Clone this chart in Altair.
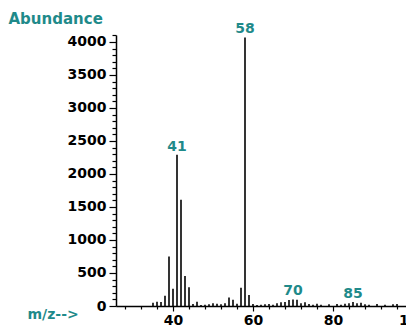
import altair as alt
import pandas as pd

mz = [35, 36, 37, 38, 39, 40, 41, 42, 43, 44, 45, 46, 47, 48, 49, 50, 51, 52, 53, 54,
      55, 56, 57, 58, 59, 60, 61, 62, 63, 64, 65, 66, 67, 68, 69, 70, 71, 72, 73, 74,
      75, 76, 77, 79, 81, 82, 83, 84, 85, 86, 87, 88, 89, 91, 93, 95, 96]
abundance = [50, 65, 60, 155, 750, 260, 2290, 1610, 455, 285, 30, 65, 15, 20, 25, 40, 35, 25, 40, 130,
             95, 35, 275, 4070, 165, 30, 15, 20, 25, 30, 20, 40, 55, 60, 90, 100, 95, 40, 55, 30,
             20, 35, 20, 25, 30, 20, 35, 40, 60, 40, 50, 25, 20, 30, 20, 25, 30]

label_mz = [41, 58, 70, 85]
label_text = ["41", "58", "70", "85"]

x_ticks = list(range(28, 101, 4))
y_ticks = list(range(0, 4101, 100))

TEAL = "#1f8a8a"
FONT = "DejaVu Sans"
FS = 14

df = pd.DataFrame({"mz": mz, "ab": abundance})
lab_ab = [abundance[mz.index(m)] for m in label_mz]
df_lab = pd.DataFrame({"mz": label_mz, "ab": lab_ab, "t": label_text})

xscale = alt.Scale(domain=[25.75, 100], range=[0, 297], nice=False, zero=False)
yscale = alt.Scale(domain=[0, 4106], nice=False)

xaxis = alt.Axis(
    values=x_ticks, tickCount=200, format="d",
    labelExpr="datum.value % 20 === 0 ? datum.label : ''",
    tickSize={"condition": {"test": "datum.value % 20 === 0", "value": 5}, "value": 3},
    tickColor="black", tickWidth=1.2, domainColor="black", domainWidth=1.5,
    labelFont=FONT, labelFontSize=FS, labelFontWeight="bold", labelColor="black",
    labelPadding=2, labelOverlap=False, labelFlush=False, grid=False,
    title="m/z-->", titleFont=FONT, titleFontSize=FS, titleFontWeight="bold",
    titleColor=TEAL, titleAlign="left", titleBaseline="alphabetic",
    titleX=-89, titleY=12, titleAnchor="start",
)
yaxis = alt.Axis(
    values=y_ticks, tickCount=200, format="d",
    labelExpr="datum.value % 500 === 0 ? datum.label : ''",
    tickSize={"condition": {"test": "datum.value % 500 === 0", "value": 7}, "value": 4},
    tickColor="black", tickWidth=1.2, domainColor="black", domainWidth=1.5,
    labelFont=FONT, labelFontSize=FS, labelFontWeight="bold", labelColor="black",
    labelPadding=3, labelOverlap=False, labelFlush=False, grid=False,
    title="Abundance", titleFont=FONT, titleFontSize=15, titleFontWeight="bold",
    titleColor=TEAL, titleAngle=0, titleAlign="left", titleBaseline="alphabetic",
    titleX=-108, titleY=-12, titleAnchor="start",
)

bars = alt.Chart(df).mark_rule(color="black", strokeWidth=1.6).encode(
    x=alt.X("mz:Q", scale=xscale, axis=xaxis),
    y=alt.Y("ab:Q", scale=yscale, axis=yaxis),
    y2=alt.datum(0),
)

labels = alt.Chart(df_lab).mark_text(
    color=TEAL, font=FONT, fontSize=FS, fontWeight="bold", baseline="bottom", dy=-1
).encode(
    x=alt.X("mz:Q", scale=xscale),
    y=alt.Y("ab:Q", scale=yscale),
    text="t:N",
)

chart = alt.layer(bars, labels).properties(
    width=290, height=271,
    autosize=alt.AutoSizeParams(type="none"),
    padding={"left": 116, "top": 35, "right": 0, "bottom": 21},
).configure_view(stroke=None)

chart.save("out.html", embed_options={"renderer": "svg", "actions": False})
